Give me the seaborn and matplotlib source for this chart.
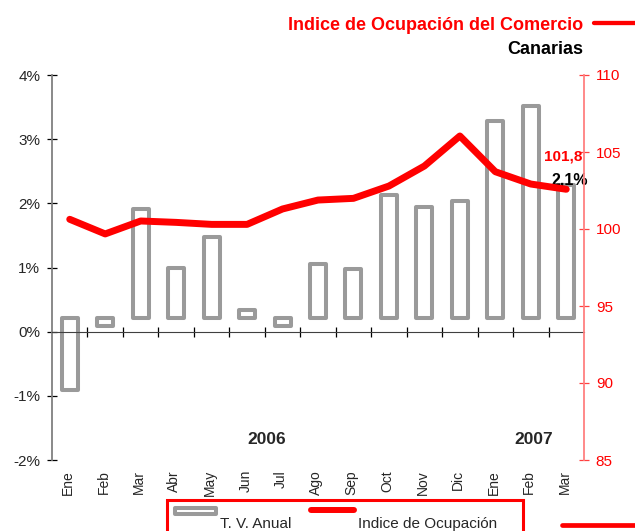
import numpy as np
import pandas as pd
import seaborn as sns
import matplotlib
matplotlib.use("Agg")
import matplotlib.pyplot as plt
from matplotlib.patches import Rectangle
from matplotlib.lines import Line2D
import matplotlib.transforms as mtransforms

sns.set_style("ticks")
plt.rcParams['font.family'] = ['Liberation Sans', 'DejaVu Sans']

# datos
meses = ['Ene', 'Feb', 'Mar', 'Abr', 'May', 'Jun', 'Jul', 'Ago', 'Sep',
         'Oct', 'Nov', 'Dic', 'Ene', 'Feb', 'Mar']
tv_anual = [-1.12, -0.12, 1.70, 0.79, 1.26, 0.13, -0.12, 0.84, 0.76,
            1.92, 1.73, 1.83, 3.08, 3.31, 2.07]
indice = [100.63, 99.68, 100.52, 100.43, 100.30, 100.30, 101.30, 101.88, 101.99,
          102.79, 104.09, 106.04, 103.72, 102.92, 102.58]
base_barras = 0.21  # las barras arrancan algo por encima del 0%

W, H = 635, 531
fig = plt.figure(figsize=(W / 100, H / 100), dpi=100)


def fx(x):
    return x / W


def fy(y):
    return 1 - y / H


ax = fig.add_axes([fx(52), fy(460), (584 - 52) / W, (460 - 75) / H])
df = pd.DataFrame({'pos': np.arange(len(meses)), 'tv': tv_anual, 'ind': indice})

sns.barplot(data=df, x='pos', y='tv', ax=ax, width=0.45, color='white',
            edgecolor='#9a9a9a', linewidth=2.9, bottom=base_barras,
            joinstyle='round', zorder=2)

ax.set_xlim(-0.5, 14.5)
ax.set_ylim(-2, 4)
ax.set_yticks(range(-2, 5))
ax.set_yticklabels([f'{v}%' for v in range(-2, 5)], fontsize=11)
ax.set_xticks(np.arange(0.5, 14, 1))
ax.set_xticklabels([])
ax.set_xlabel('')
ax.set_ylabel('')
ax.spines['bottom'].set_position(('data', 0))
ax.spines['bottom'].set_color('#404040')
ax.spines['left'].set_color('#808080')
ax.spines['left'].set_linewidth(1.3)
ax.spines['top'].set_visible(False)
ax.spines['right'].set_visible(False)
ax.tick_params(axis='both', direction='inout', length=7, width=0.9, color='black')
ax.tick_params(axis='y', pad=5)

trans = mtransforms.blended_transform_factory(ax.transData, ax.transAxes)
for i, m in enumerate(meses):
    ax.text(i - 0.05, -0.026, m, transform=trans, rotation=90, ha='center',
            va='top', fontsize=10)

ax.text(5.55, -1.75, '2006', fontsize=12.5, fontweight='bold', ha='center', va='baseline')
ax.text(13.07, -1.75, '2007', fontsize=12.5, fontweight='bold', ha='center', va='baseline')

ax2 = ax.twinx()
sns.lineplot(data=df, x='pos', y='ind', ax=ax2, color='#ff0000', linewidth=5,
             solid_joinstyle='round', solid_capstyle='round')
ax2.set_ylim(85, 110)
ax2.set_yticks(range(85, 111, 5))
ax2.set_yticklabels([str(v) for v in range(85, 111, 5)], fontsize=11, color='#ff0000')
ax2.set_xlabel('')
ax2.set_ylabel('')
for s in ['left', 'top', 'bottom']:
    ax2.spines[s].set_visible(False)
ax2.spines['right'].set_color('#ff8080')
ax2.spines['right'].set_linewidth(1.3)
ax2.tick_params(axis='y', direction='inout', length=7, width=0.9, color='#ff4040', pad=5)
ax2.set_xlim(-0.5, 14.5)

ax2.text(13.9, 104.48, '101,8', color='#ff0000', fontsize=11, fontweight='bold',
         ha='center', va='baseline', zorder=10)
ax.text(14.1, 2.30, '2,1%', color='black', fontsize=11.5, fontweight='bold',
        ha='center', va='baseline', zorder=10)

# titulo
fig.text(fx(583), fy(30), 'Indice de Ocupación del Comercio', color='#ff0000',
         fontsize=13, fontweight='bold', ha='right', va='baseline')
fig.text(fx(583), fy(54.3), 'Canarias', color='black',
         fontsize=13, fontweight='bold', ha='right', va='baseline')
fig.add_artist(Line2D([fx(594), fx(640)], [fy(22.7), fy(22.7)], color='#ff0000', lw=3.1))

# leyenda (cortada abajo, como en el original)
fig.add_artist(Rectangle((fx(166.7), fy(560)), (522.7 - 166.7) / W, 60 / H,
                         transform=fig.transFigure, fill=False,
                         edgecolor='#ff0000', lw=2.2))
fig.add_artist(Rectangle((fx(174.7), fy(514)), (216.3 - 174.7) / W, 6 / H,
                         transform=fig.transFigure, facecolor='white',
                         edgecolor='#9a9a9a', lw=2.9, joinstyle='round'))
fig.text(fx(220), fy(528), 'T. V. Anual', fontsize=11, ha='left', va='baseline')
fig.add_artist(Line2D([fx(311), fx(354)], [fy(510), fy(510)], color='#ff0000',
                      lw=4.3, solid_capstyle='round'))
fig.text(fx(358), fy(528), 'Indice de Ocupación', fontsize=11, ha='left', va='baseline')
fig.add_artist(Line2D([fx(561.7), fx(640)], [fy(525), fy(525)], color='#ff0000', lw=3.4))

fig.savefig('out.png', dpi=100, facecolor='white')
